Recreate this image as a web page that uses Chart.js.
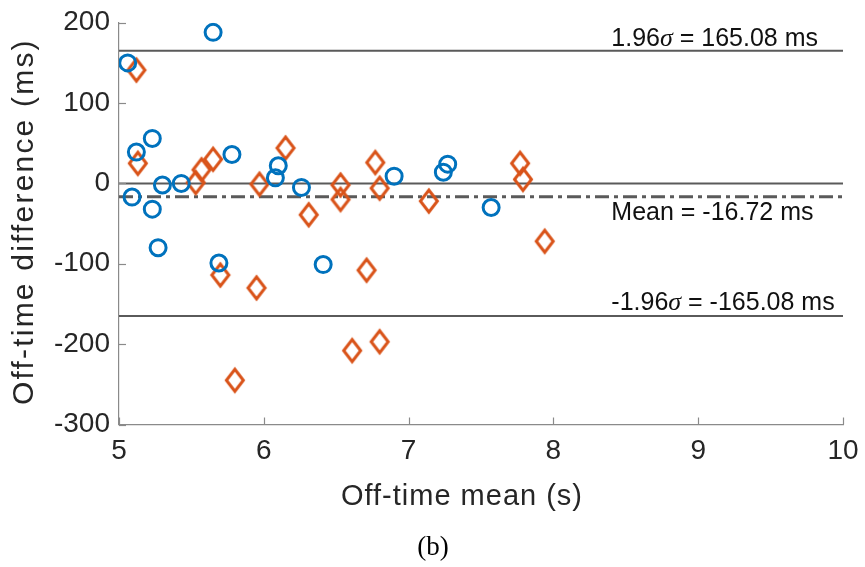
<!DOCTYPE html>
<html>
<head>
<meta charset="utf-8">
<script src="https://cdn.jsdelivr.net/npm/chart.js@4/dist/chart.umd.min.js"></script>
<style>
  body { margin: 0; background: #fff; }
  #wrap { position: relative; width: 865px; height: 567px; }
</style>
</head>
<body>
<div id="wrap"><canvas id="myChart" width="865" height="567"></canvas></div>
<script>
// datos (b)
const blueX = [5.06, 5.65, 5.12, 5.23, 5.09, 5.30, 5.43, 5.78, 6.10, 6.08, 6.26, 6.90, 7.24, 7.27, 5.23, 7.57, 5.27, 5.69, 6.41];
const blueY = [150, 188, 39, 56, -17, -2, 0, 36, 22, 7, -5, 9, 14, 24, -32, -30, -80, -99, -101];

const orangeX = [5.12, 5.13, 5.53, 5.57, 5.65, 5.97, 6.15, 6.53, 6.53, 6.77, 6.80, 7.14, 6.31, 7.77, 7.79, 5.70, 5.95, 6.71, 5.80, 6.61, 6.80, 7.94];
const orangeY = [141, 25, 1, 17, 30, -1, 44, -2, -20, 26, -6, -22, -39, 25, 5, -114, -130, -108, -245, -208, -197, -72];

const upperLoA = 165.08;
const meanDiff = -16.72;
const lowerLoA = -165.08;

const xTicks = [5, 6, 7, 8, 9, 10];
const yTicks = [-300, -200, -100, 0, 100, 200];

const toPoints = (xs, ys) => xs.map((x, i) => ({ x: x, y: ys[i] }));
const hLine = (v) => [{ x: 5, y: v }, { x: 10, y: v }];

// marcador de rombo (mas alto que ancho)
const diamond = document.createElement('canvas');
diamond.width = 24;
diamond.height = 30;
const dctx = diamond.getContext('2d');
dctx.strokeStyle = '#D95319';
dctx.lineWidth = 3;
dctx.lineJoin = 'miter';
dctx.beginPath();
dctx.moveTo(12, 4);
dctx.lineTo(20.5, 15);
dctx.lineTo(12, 26);
dctx.lineTo(3.5, 15);
dctx.closePath();
dctx.stroke();

const textColor = '#262626';
const sans = '"Liberation Sans", Arial, sans-serif';

const extras = {
    id: 'extras',
    afterDraw(chart) {
        const ctx = chart.ctx;
        const xs = chart.scales.x;
        const ys = chart.scales.y;
        const area = chart.chartArea;

        // ticks hacia adentro
        ctx.save();
        ctx.strokeStyle = '#8a8a8a';
        ctx.lineWidth = 1.2;
        xTicks.forEach(t => {
            const px = Math.round(xs.getPixelForValue(t)) + 0.5;
            ctx.beginPath();
            ctx.moveTo(px, area.bottom);
            ctx.lineTo(px, area.bottom - 7);
            ctx.stroke();
        });
        yTicks.forEach(t => {
            const py = Math.round(ys.getPixelForValue(t)) + 0.5;
            ctx.beginPath();
            ctx.moveTo(area.left, py);
            ctx.lineTo(area.left + 7, py);
            ctx.stroke();
        });
        ctx.restore();

        // textos de las lineas
        ctx.save();
        ctx.fillStyle = '#111';
        ctx.textBaseline = 'alphabetic';
        const lx = xs.getPixelForValue(8.4);
        const sigmaText = (pre, post, y) => {
            let x = lx;
            ctx.font = '25px ' + sans;
            ctx.fillText(pre, x, y);
            x += ctx.measureText(pre).width;
            ctx.font = 'italic 26px "Liberation Serif", serif';
            ctx.fillText('σ', x, y);
            x += ctx.measureText('σ').width;
            ctx.font = '25px ' + sans;
            ctx.fillText(post, x, y);
        };
        sigmaText('1.96', ' = 165.08 ms', ys.getPixelForValue(upperLoA) - 5);
        ctx.font = '25px ' + sans;
        ctx.fillText('Mean = -16.72 ms', lx, ys.getPixelForValue(meanDiff) + 23);
        sigmaText('-1.96', ' = -165.08 ms', ys.getPixelForValue(lowerLoA) - 6);

        // titulos de ejes
        ctx.fillStyle = textColor;
        ctx.font = '29px ' + sans;
        ctx.textAlign = 'center';
        ctx.textBaseline = 'middle';
        ctx.letterSpacing = '1px';
        ctx.fillText('Off-time mean (s)', 462, 497);
        ctx.save();
        ctx.translate(25, (area.top + area.bottom) / 2 - 2);
        ctx.rotate(-Math.PI / 2);
        ctx.font = '30px ' + sans;
        ctx.letterSpacing = '2.2px';
        ctx.fillText('Off-time difference (ms)', 0, 0);
        ctx.restore();

        ctx.letterSpacing = '0px';
        ctx.fillStyle = '#000';
        ctx.font = '27px "Liberation Serif", "Times New Roman", serif';
        ctx.fillText('(b)', 433, 548);
        ctx.restore();
    }
};

const ctx = document.getElementById('myChart');

new Chart(ctx, {
    type: 'scatter',
    data: {
        datasets: [
            {
                data: toPoints(blueX, blueY),
                pointStyle: 'circle',
                pointRadius: 8,
                pointBorderWidth: 3,
                borderColor: '#0072BD',
                backgroundColor: 'rgba(0,0,0,0)',
                order: 0
            },
            {
                data: toPoints(orangeX, orangeY),
                pointStyle: diamond,
                pointRadius: 12,
                borderColor: '#D95319',
                backgroundColor: 'rgba(0,0,0,0)',
                order: 0
            },
            {
                type: 'line',
                data: hLine(upperLoA),
                borderColor: '#5a5a5a',
                borderWidth: 2,
                pointRadius: 0,
                order: 1
            },
            {
                type: 'line',
                data: hLine(0),
                borderColor: '#5a5a5a',
                borderWidth: 2,
                pointRadius: 0,
                order: 1
            },
            {
                type: 'line',
                data: hLine(meanDiff),
                borderColor: '#5a5a5a',
                borderWidth: 3,
                borderDash: [14, 5, 4, 5],
                pointRadius: 0,
                order: 1
            },
            {
                type: 'line',
                data: hLine(lowerLoA),
                borderColor: '#5a5a5a',
                borderWidth: 2,
                pointRadius: 0,
                order: 1
            }
        ]
    },
    options: {
        responsive: false,
        animation: false,
        events: [],
        layout: {
            autoPadding: false,
            padding: { top: 22.7, right: 22, left: 0, bottom: 0 }
        },
        plugins: {
            legend: { display: false },
            tooltip: { enabled: false }
        },
        scales: {
            x: {
                type: 'linear',
                min: 5,
                max: 10,
                afterFit: (s) => {
                    s.height = 142.5;
                    s.paddingLeft = 0;
                    s.paddingRight = 0;
                },
                afterBuildTicks: (s) => { s.ticks = xTicks.map(v => ({ value: v })); },
                grid: { display: false, drawTicks: false },
                border: { display: true, color: '#8a8a8a', width: 1.2 },
                ticks: {
                    padding: 10,
                    color: textColor,
                    font: { family: sans, size: 28 }
                }
            },
            y: {
                type: 'linear',
                min: -300,
                max: 200,
                afterFit: (s) => {
                    s.width = 119;
                    s.paddingTop = 0;
                    s.paddingBottom = 0;
                },
                afterBuildTicks: (s) => { s.ticks = yTicks.map(v => ({ value: v })); },
                grid: { display: false, drawTicks: false },
                border: { display: true, color: '#8a8a8a', width: 1.2 },
                ticks: {
                    padding: 9,
                    color: textColor,
                    font: { family: sans, size: 28 }
                }
            }
        }
    },
    plugins: [extras]
});
</script>
</body>
</html>
